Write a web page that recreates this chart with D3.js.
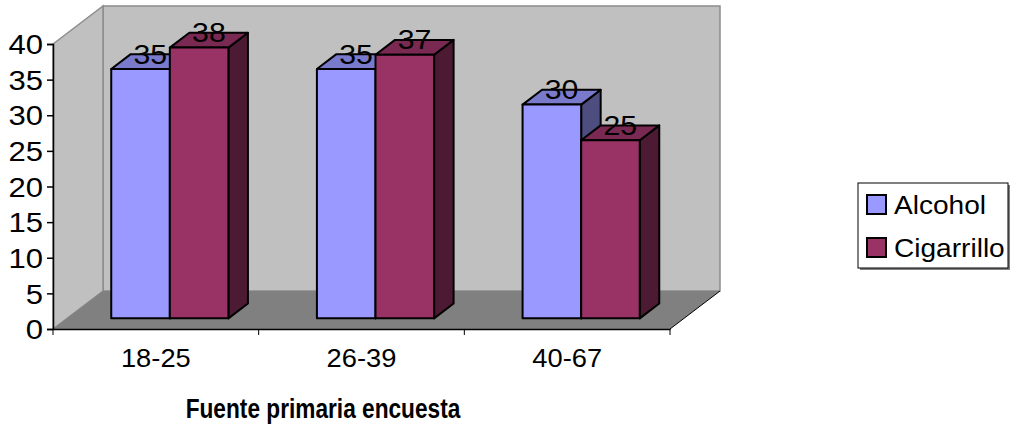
<!DOCTYPE html>
<html>
<head>
<meta charset="utf-8">
<script src="https://cdn.jsdelivr.net/npm/d3@7"></script>
<style>
  body { margin: 0; background: #fff; }
  text { font-family: "Liberation Sans", Arial, sans-serif; fill: #000; }
</style>
</head>
<body>
<div id="chart-area"></div>
<script>
// data
let categories = ["18-25", "26-39", "40-67"];
let seriesNames = ["Alcohol", "Cigarrillo"];
let alcohol = [35, 35, 30];
let cigarrillo = [38, 37, 25];
let yTicks = [0, 5, 10, 15, 20, 25, 30, 35, 40];

let seriesColors = {Alcohol: "#9999ff", Cigarrillo: "#993366"};

let width = 1011, height = 428;
// front plane of the plot
let plot = {left: 53, right: 670, top: 44, bottom: 329};
// full depth of the floor
let depthX = 50, depthY = -38;
// bars sit between these depth fractions
let z0 = 0.28, z1 = 0.67;

let svg = d3.select("#chart-area")
    .append("svg")
    .attr("width", width)
    .attr("height", height);

// Scales
let x = d3.scaleBand()
    .domain(categories)
    .range([plot.left, plot.right])
    .paddingInner(0)
    .paddingOuter(0);
let xInner = d3.scaleBand()
    .domain(seriesNames)
    .range([0, x.bandwidth()])
    .paddingInner(0)
    .paddingOuter(0.755);
let y = d3.scaleLinear()
    .domain([0, 40])
    .range([plot.bottom, plot.top]);

// projection of (px, value, depth) to screen
let P = (px, v, z) => [px + depthX * z, y(v) + depthY * z];
let pts = arr => arr.map(p => p.join(",")).join(" ");

// text in the original is a bit wider than Liberation Sans
let stretch = (sel, sx, x0) => sel
    .attr("x", (x0 || 0) / sx)
    .attr("transform", "scale(" + sx + ",1)");

let gWalls = svg.append("g");
let yMax = d3.max(yTicks);

// back wall
gWalls.append("polygon")
    .attr("points", pts([P(plot.left, 0, 1), P(plot.left, yMax, 1), P(plot.right, yMax, 1), P(plot.right, 0, 1)]))
    .attr("fill", "#c0c0c0")
    .attr("stroke", "#8c8c8c")
    .attr("stroke-width", 1.5);
// left wall
gWalls.append("polygon")
    .attr("points", pts([P(plot.left, 0, 0), P(plot.left, yMax, 0), P(plot.left, yMax, 1), P(plot.left, 0, 1)]))
    .attr("fill", "#c0c0c0")
    .attr("stroke", "#8c8c8c")
    .attr("stroke-width", 1.5);
// floor
gWalls.append("polygon")
    .attr("points", pts([P(plot.left, 0, 0), P(plot.left, 0, 1), P(plot.right, 0, 1), P(plot.right, 0, 0)]))
    .attr("fill", "#808080");
gWalls.append("line")
    .attr("x1", P(plot.right, 0, 0)[0]).attr("y1", P(plot.right, 0, 0)[1])
    .attr("x2", P(plot.right, 0, 1)[0]).attr("y2", P(plot.right, 0, 1)[1])
    .attr("stroke", "#000")
    .attr("stroke-width", 1);

// Y Axis
let yAxisCall = d3.axisLeft(y)
    .tickValues(yTicks)
    .tickSize(6)
    .tickPadding(4)
    .tickFormat(d3.format("d"));
let yAxis = svg.append("g")
    .attr("transform", "translate(" + plot.left + ",0)")
    .call(yAxisCall);
yAxis.select(".domain").attr("stroke", "#000").attr("stroke-width", 1.5);
yAxis.selectAll(".tick line").attr("stroke", "#000").attr("stroke-width", 1.5);
yAxis.selectAll("text")
    .attr("font-size", "27px")
    .attr("font-family", "'Liberation Sans', Arial, sans-serif")
    .attr("dy", "0.36em")
    .call(stretch, 1.15, -10);

// X Axis
let xAxisCall = d3.axisBottom(x)
    .tickSize(0)
    .tickPadding(20);
let xAxis = svg.append("g")
    .attr("transform", "translate(0," + plot.bottom + ")")
    .call(xAxisCall);
xAxis.select(".domain").attr("stroke", "#000").attr("stroke-width", 1.5);
xAxis.selectAll("text")
    .attr("font-size", "26px")
    .attr("font-family", "'Liberation Sans', Arial, sans-serif")
    .call(stretch, 1.05, 0);
// boundary ticks between categories
let bounds = categories.map(c => x(c)).concat([plot.right]);
xAxis.selectAll(".bound")
    .data(bounds)
    .enter().append("line")
    .attr("class", "bound")
    .attr("x1", d => d).attr("x2", d => d)
    .attr("y1", 0).attr("y2", 6)
    .attr("stroke", "#000")
    .attr("stroke-width", 1);

// Bars
let rows = [];
categories.forEach((c, i) => {
    rows.push({cat: c, series: "Alcohol", value: alcohol[i]});
    rows.push({cat: c, series: "Cigarrillo", value: cigarrillo[i]});
});

let shade = (col, k) => {
    let c = d3.rgb(col);
    return d3.rgb(c.r * k, c.g * k, c.b * k).formatHex();
};

let gBars = svg.append("g");
rows.forEach(d => {
    let x0 = x(d.cat) + xInner(d.series);
    let x1 = x0 + xInner.bandwidth();
    let col = seriesColors[d.series];
    let bar = gBars.append("g")
        .attr("stroke", "#000")
        .attr("stroke-width", 2)
        .attr("stroke-linejoin", "round");
    // side
    bar.append("polygon")
        .attr("points", pts([P(x1, 0, z0), P(x1, d.value, z0), P(x1, d.value, z1), P(x1, 0, z1)]))
        .attr("fill", shade(col, 0.5));
    // top
    bar.append("polygon")
        .attr("points", pts([P(x0, d.value, z0), P(x0, d.value, z1), P(x1, d.value, z1), P(x1, d.value, z0)]))
        .attr("fill", shade(col, 0.8));
    // front
    bar.append("polygon")
        .attr("points", pts([P(x0, 0, z0), P(x0, d.value, z0), P(x1, d.value, z0), P(x1, 0, z0)]))
        .attr("fill", col);
});

// value labels
svg.append("g").selectAll("g")
    .data(rows)
    .enter().append("g")
    .attr("transform", d => {
        let p = P(x(d.cat) + xInner(d.series) + xInner.bandwidth() / 2, d.value, (z0 + z1) / 2);
        return "translate(" + p[0] + "," + (p[1] + 2) + ")";
    })
    .append("text")
    .attr("text-anchor", "middle")
    .attr("font-size", "28px")
    .attr("transform", "scale(1.08,1)")
    .text(d => d.value);

// axis title
svg.append("g")
    .attr("transform", "translate(323,418)")
    .append("text")
    .attr("text-anchor", "middle")
    .attr("font-size", "27px")
    .attr("font-weight", "bold")
    .attr("transform", "scale(0.84,1)")
    .text("Fuente primaria encuesta");

// Legend
let legend = svg.append("g")
    .attr("transform", "translate(858,183)");
legend.append("rect")
    .attr("x", 2).attr("y", 2)
    .attr("width", 150).attr("height", 85)
    .attr("fill", "#808080");
legend.append("rect")
    .attr("width", 150).attr("height", 85)
    .attr("fill", "#fff")
    .attr("stroke", "#000")
    .attr("stroke-width", 1);

seriesNames.forEach((s, i) => {
    let legendRow = legend.append("g")
        .attr("transform", `translate(9,${12 + i * 43})`);
    legendRow.append("rect")
        .attr("width", 19)
        .attr("height", 19)
        .attr("fill", seriesColors[s])
        .attr("stroke", "#000")
        .attr("stroke-width", 2);
    legendRow.append("text")
        .attr("y", 19)
        .attr("font-size", "26px")
        .call(stretch, 1.08, 27)
        .text(s);
});
</script>
</body>
</html>
